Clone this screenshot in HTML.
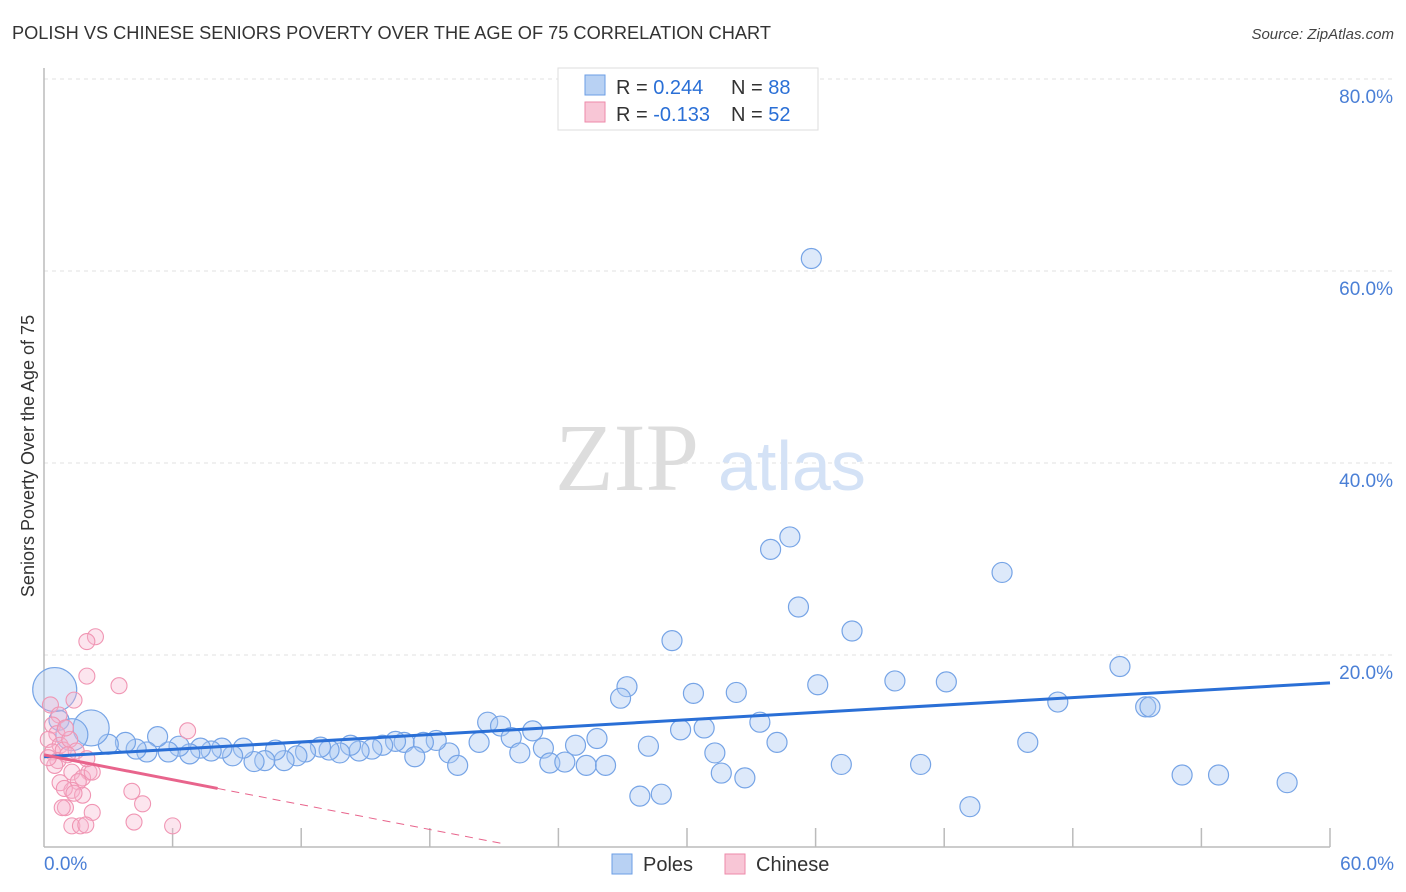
<!DOCTYPE html>
<html><head><meta charset="utf-8"><style>
body{margin:0;background:#fff;font-family:"Liberation Sans",sans-serif}
svg{display:block}
</style></head><body>
<svg id="c" width="1406" height="892"></svg>
<script>
const poles=[[35.8,61.3],[33.9,31.0],[34.8,32.3],[44.7,28.6],[35.2,25.0],[37.7,22.5],[29.3,21.5],[50.2,18.8],[27.2,16.7],[26.9,15.5],[30.3,16.0],[32.3,16.1],[36.1,16.9],[39.7,17.3],[42.1,17.2],[47.3,15.1],[51.4,14.6],[51.6,14.6],[33.4,13.0],[29.7,12.2],[30.8,12.4],[20.7,13.0],[21.3,12.6],[22.8,12.1],[21.8,11.4],[25.8,11.3],[34.2,10.9],[45.9,10.9],[28.2,10.5],[24.8,10.6],[23.3,10.3],[31.3,9.8],[22.2,9.8],[18.9,9.8],[20.3,10.9],[18.3,11.1],[17.7,10.9],[16.8,10.9],[16.4,11.0],[15.8,10.6],[15.3,10.2],[14.7,10.0],[14.3,10.6],[13.8,9.8],[13.3,10.1],[12.9,10.4],[12.2,9.9],[11.8,9.5],[11.2,9.0],[10.8,10.1],[10.3,9.0],[9.8,8.9],[9.3,10.3],[8.8,9.5],[8.3,10.3],[7.8,10.0],[7.3,10.3],[6.8,9.7],[6.3,10.5],[5.8,9.9],[5.3,11.5],[4.8,9.9],[4.3,10.2],[3.8,10.9],[3.0,10.7],[0.7,13.2],[17.3,9.4],[19.3,8.5],[23.6,8.75],[24.3,8.85],[25.3,8.5],[26.2,8.5],[27.8,5.3],[28.8,5.5],[31.6,7.7],[32.7,7.2],[37.2,8.6],[40.9,8.6],[43.2,4.2],[53.1,7.5],[54.8,7.5],[58.0,6.7]];
const polesBig=[[2.2,12.4,18],[1.3,11.7,16],[0.5,16.4,22]];
const chinese=[[2.4,21.9],[2.0,21.4],[2.0,17.8],[3.5,16.8],[1.4,15.3],[6.7,12.1],[0.3,14.8],[0.7,13.75],[0.4,12.7],[0.6,11.8],[0.2,11.2],[0.75,10.6],[0.4,9.9],[0.9,10.1],[0.65,9.0],[1.2,11.2],[1.0,12.4],[0.5,8.5],[0.2,9.3],[1.3,7.8],[2.1,7.8],[1.8,7.2],[2.25,7.8],[1.6,6.8],[0.75,6.7],[1.3,5.9],[0.95,6.1],[1.8,5.4],[1.4,5.6],[1.0,4.1],[2.25,3.6],[4.1,5.8],[4.6,4.5],[4.2,2.6],[6.0,2.2],[1.3,2.2],[1.7,2.2],[1.95,2.3],[0.85,4.1],[1.5,10.0],[1.1,9.6],[2.0,9.2]];
const xTicks=["0.0%","60.0%"];
const yTicks=[20,40,60,80];
const poleTrend=[[0,9.4],[60,17.1]];
const chTrendSolid=[[0,9.6],[8.1,6.1]];
const chTrendDash=[[8.1,6.1],[21.3,0.4]];
const X=v=>44+v/60*1286, Y=v=>847-v*9.6;
const s=document.getElementById('c');const NS="http://www.w3.org/2000/svg";
function el(t,a,p){const e=document.createElementNS(NS,t);for(const k in a)e.setAttribute(k,a[k]);(p||s).appendChild(e);return e;}
let t=el('text',{x:12,y:39,'font-size':18,fill:'#333',textLength:759,lengthAdjust:'spacingAndGlyphs'});t.textContent="POLISH VS CHINESE SENIORS POVERTY OVER THE AGE OF 75 CORRELATION CHART";


t=el('text',{x:1394,y:39,'font-size':15,fill:'#444','text-anchor':'end','font-style':'italic'});t.textContent="Source: ZipAtlas.com";


yTicks.forEach(v=>{const g=el('line',{x1:44,x2:1394,y1:Y(v),y2:Y(v),stroke:'#e2e2e2','stroke-dasharray':'4,4'});


const l=el('text',{x:1393,y:Y(v)+24,'font-size':19,fill:'#4a7fd6','text-anchor':'end'});l.textContent=v.toFixed(1)+"%";

});
el('line',{x1:44,x2:44,y1:68,y2:847,stroke:'#bbb','stroke-width':1.5});
el('line',{x1:44,x2:1330,y1:847,y2:847,stroke:'#bbb','stroke-width':1.5});
for(let i=1;i<=10;i++){const tk=el('line',{x1:X(i*6),x2:X(i*6),y1:828,y2:847,stroke:'#bbb','stroke-width':1.5});

}
t=el('text',{x:44,y:870,'font-size':19,fill:'#4a7fd6'});t.textContent=xTicks[0];


t=el('text',{x:1394,y:870,'font-size':19,fill:'#4a7fd6','text-anchor':'end'});t.textContent=xTicks[1];


t=el('text',{x:34,y:456,'font-size':18,fill:'#333','text-anchor':'middle',transform:'rotate(-90 34 456)'});t.textContent="Seniors Poverty Over the Age of 75";


t=el('text',{x:555,y:490,'font-size':96,fill:'#ddd','font-family':'Liberation Serif'});t.textContent="ZIP";


t=el('text',{x:718,y:490,'font-size':70,fill:'#d4e2f6'});t.textContent="atlas";


poles.forEach(p=>{const c=el('circle',{cx:X(p[0]),cy:Y(p[1]),r:10,fill:'rgba(170,200,242,0.4)',stroke:'#76a4e6','stroke-width':1.2});

});
polesBig.forEach(p=>{const c=el('circle',{cx:X(p[0]),cy:Y(p[1]),r:p[2],fill:'rgba(170,200,242,0.4)',stroke:'#76a4e6','stroke-width':1.2});

});
chinese.forEach(p=>{const c=el('circle',{cx:X(p[0]),cy:Y(p[1]),r:8,fill:'rgba(245,180,205,0.35)',stroke:'#f095b3','stroke-width':1.1});

});
let ln=el('line',{x1:X(poleTrend[0][0]),y1:Y(poleTrend[0][1]),x2:X(poleTrend[1][0]),y2:Y(poleTrend[1][1]),stroke:'#2a6fd6','stroke-width':3});


ln=el('line',{x1:X(chTrendSolid[0][0]),y1:Y(chTrendSolid[0][1]),x2:X(chTrendSolid[1][0]),y2:Y(chTrendSolid[1][1]),stroke:'#e8648c','stroke-width':3});


ln=el('line',{x1:X(chTrendDash[0][0]),y1:Y(chTrendDash[0][1]),x2:X(chTrendDash[1][0]),y2:Y(chTrendDash[1][1]),stroke:'#e8648c','stroke-width':1,'stroke-dasharray':'8,6'});


const lg=el('g',{});
el('rect',{x:558,y:68,width:260,height:62,fill:'#fff',stroke:'#ddd'},lg);
el('rect',{x:585,y:75,width:20,height:20,fill:'#b8d1f3',stroke:'#6b9ee6'},lg);
el('rect',{x:585,y:102,width:20,height:20,fill:'#f8c6d6',stroke:'#ee8aaa'},lg);
[[94,"0.244","88"],[121,"-0.133","52"]].forEach(r=>{
 let a=el('text',{x:616,y:r[0],'font-size':20,fill:'#333'},lg);a.innerHTML='R = <tspan fill="#2a6fd6">'+r[1]+'</tspan>';
 let b=el('text',{x:731,y:r[0],'font-size':20,fill:'#333'},lg);b.innerHTML='N = <tspan fill="#2a6fd6">'+r[2]+'</tspan>';});
const bl=el('g',{});
el('rect',{x:612,y:854,width:20,height:20,fill:'#b8d1f3',stroke:'#6b9ee6'},bl);
t=el('text',{x:643,y:871,'font-size':20,fill:'#333'},bl);t.textContent="Poles";
el('rect',{x:725,y:854,width:20,height:20,fill:'#f8c6d6',stroke:'#ee8aaa'},bl);
t=el('text',{x:756,y:871,'font-size':20,fill:'#333'},bl);t.textContent="Chinese";
</script>
</body></html>
